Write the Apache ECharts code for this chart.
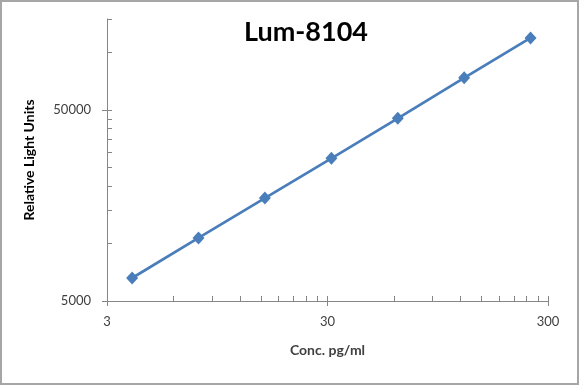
<!DOCTYPE html>
<html><head><meta charset="utf-8">
<script src="https://cdn.jsdelivr.net/npm/echarts@6/dist/echarts.min.js"></script>
<style>html,body{margin:0;padding:0;background:#fff}#c{width:580px;height:386px}</style>
</head><body><div id="c"></div>
<script>
const chartTitle = 'Lum-8104';
const xName = 'Conc. pg/ml';
const yName = 'Relative Light Units';
const concentrations = [3.9, 7.8, 15.6, 31.25, 62.5, 125, 250];
const rlu = [6600, 10700, 17300, 27950, 45250, 73800, 119400];
const xMajorTicks = [3, 30, 300];
const xMinorTicks = [3, 6, 9, 12, 15, 18, 21, 24, 27, 30, 60, 90, 120, 150, 180, 210, 240, 270, 300];
const yMajorTicks = [5000, 50000];
const yMinorTicks = [5000, 10000, 15000, 20000, 25000, 30000, 35000, 40000, 45000, 50000, 100000, 150000];
const xRange = [3, 300];
const yRange = [5000, 150000];

const FONT = 'Lato';
const AXIS = '#868686';
const TXT = '#404040';
const fmt = v => String(Math.round(Number(v)));

const chart = echarts.init(document.getElementById('c'), null, {renderer: 'canvas'});
chart.setOption({
  animation: false,
  backgroundColor: '#fff',
  title: {
    text: chartTitle, left: 301, top: 14, textAlign: 'center',
    textStyle: {fontFamily: FONT, fontSize: 27, fontWeight: 'bold', color: '#000'}
  },
  graphic: [{
    type: 'rect', silent: true,
    shape: {x: 1, y: 1, width: 577, height: 383},
    style: {fill: 'none', stroke: '#a6a6a6', lineWidth: 2}
  }],
  grid: {left: 107, right: 32, top: 19, bottom: 85, containLabel: false},
  xAxis: [{
    type: 'log', logBase: 10, min: xRange[0], max: xRange[1], position: 'bottom',
    name: xName, nameLocation: 'middle', nameGap: 42,
    nameTextStyle: {fontFamily: FONT, fontSize: 14, fontWeight: 'bold', color: TXT},
    axisLine: {show: true, lineStyle: {color: AXIS, width: 1}},
    axisTick: {show: true, inside: false, length: 5, customValues: xMajorTicks, lineStyle: {color: AXIS}},
    axisLabel: {show: true, customValues: xMajorTicks, formatter: fmt, margin: 14,
      fontFamily: FONT, fontSize: 13, color: TXT},
    splitLine: {show: false}, minorTick: {show: false}
  }, {
    type: 'log', logBase: 10, min: xRange[0], max: xRange[1], position: 'bottom', offset: 0,
    axisLine: {show: false},
    axisTick: {show: true, inside: true, length: 5, customValues: xMinorTicks, lineStyle: {color: AXIS}},
    axisLabel: {show: false},
    splitLine: {show: false}
  }],
  yAxis: [{
    type: 'log', logBase: 10, min: yRange[0], max: yRange[1], position: 'left',
    name: yName, nameLocation: 'middle', nameGap: 71, nameRotate: 90,
    nameTextStyle: {fontFamily: FONT, fontSize: 14, fontWeight: 'bold', color: '#000'},
    axisLine: {show: true, lineStyle: {color: AXIS, width: 1}},
    axisTick: {show: true, inside: false, length: 5, customValues: yMajorTicks, lineStyle: {color: AXIS}},
    axisLabel: {show: true, customValues: yMajorTicks, formatter: fmt, margin: 16,
      fontFamily: FONT, fontSize: 13, color: TXT},
    splitLine: {show: false}
  }, {
    type: 'log', logBase: 10, min: yRange[0], max: yRange[1], position: 'left', offset: 0,
    axisLine: {show: false},
    axisTick: {show: true, inside: true, length: 5, customValues: yMinorTicks, lineStyle: {color: AXIS}},
    axisLabel: {show: false},
    splitLine: {show: false}
  }],
  series: [{
    type: 'line', xAxisIndex: 0, yAxisIndex: 0,
    data: concentrations.map((x, i) => [x, rlu[i]]),
    symbol: 'diamond', symbolSize: [12, 13],
    itemStyle: {color: '#4a7ebb'},
    lineStyle: {color: '#4a7ebb', width: 2.75}
  }]
});
</script></body></html>
